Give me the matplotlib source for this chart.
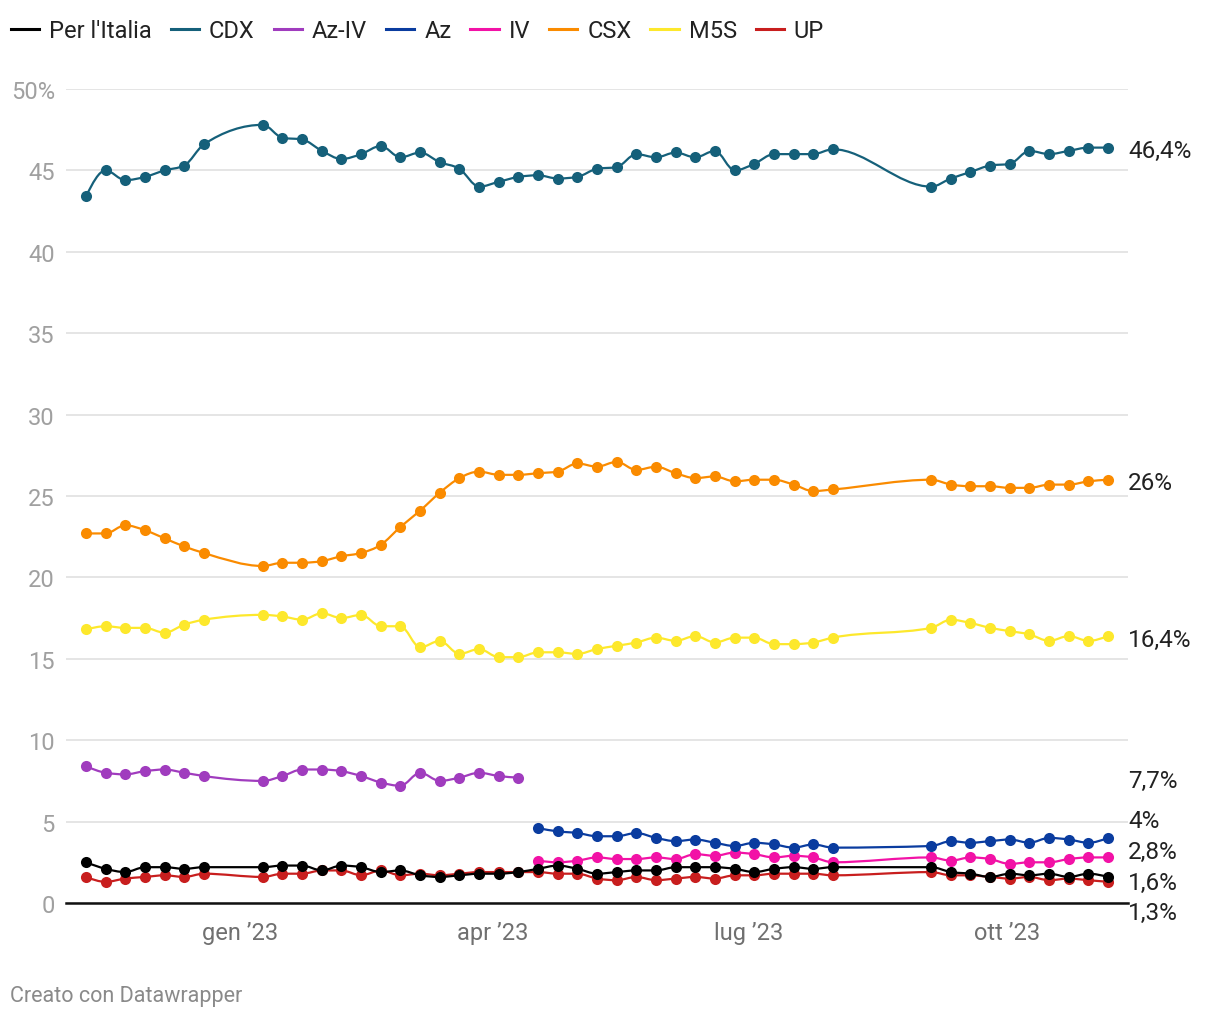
import numpy as np
import matplotlib
matplotlib.use("Agg")
import matplotlib.pyplot as plt
import matplotlib.dates as mdates
from matplotlib.path import Path
from matplotlib.patches import PathPatch
from matplotlib.lines import Line2D
import matplotlib.transforms as mtransforms
from datetime import datetime

plt.rcParams['font.family'] = ['Roboto', 'DejaVu Sans']

# weekly polls (no polls over Christmas and in August)
dates = ["2022-11-07", "2022-11-14", "2022-11-21", "2022-11-28", "2022-12-05", "2022-12-12", "2022-12-19",
         "2023-01-09", "2023-01-16", "2023-01-23", "2023-01-30", "2023-02-06", "2023-02-13", "2023-02-20",
         "2023-02-27", "2023-03-06", "2023-03-13", "2023-03-20", "2023-03-27", "2023-04-03", "2023-04-10",
         "2023-04-17", "2023-04-24", "2023-05-01", "2023-05-08", "2023-05-15", "2023-05-22", "2023-05-29",
         "2023-06-05", "2023-06-12", "2023-06-19", "2023-06-26", "2023-07-03", "2023-07-10", "2023-07-17",
         "2023-07-24", "2023-07-31",
         "2023-09-04", "2023-09-11", "2023-09-18", "2023-09-25", "2023-10-02", "2023-10-09", "2023-10-16",
         "2023-10-23", "2023-10-30", "2023-11-06"]

nan = np.nan
per_italia = [2.5, 2.1, 1.9, 2.2, 2.2, 2.1, 2.2,
              2.2, 2.3, 2.3, 2.0, 2.3, 2.2, 1.9, 2.0, 1.7, 1.6, 1.7, 1.8, 1.8, 1.9,
              2.1, 2.3, 2.1, 1.8, 1.9, 2.0, 2.0, 2.2, 2.2, 2.2, 2.1, 1.9, 2.1, 2.2, 2.1, 2.2,
              2.2, 1.9, 1.8, 1.6, 1.8, 1.7, 1.8, 1.6, 1.8, 1.6]
cdx = [43.4, 45.0, 44.4, 44.6, 45.0, 45.3, 46.6,
       47.8, 47.0, 46.9, 46.2, 45.7, 46.0, 46.5, 45.8, 46.1, 45.5, 45.1, 44.0, 44.3, 44.6,
       44.7, 44.5, 44.6, 45.1, 45.2, 46.0, 45.8, 46.1, 45.8, 46.2, 45.0, 45.4, 46.0, 46.0, 46.0, 46.3,
       44.0, 44.5, 44.9, 45.3, 45.4, 46.2, 46.0, 46.2, 46.4, 46.4]
az_iv = [8.4, 8.0, 7.9, 8.1, 8.2, 8.0, 7.8,
         7.5, 7.8, 8.2, 8.2, 8.1, 7.8, 7.4, 7.2, 8.0, 7.5, 7.7, 8.0, 7.8, 7.7] + [nan] * 26
az = [nan] * 21 + [4.6, 4.4, 4.3, 4.1, 4.1, 4.3, 4.0, 3.8, 3.9, 3.7, 3.5, 3.7, 3.6, 3.4, 3.6, 3.4,
                   3.5, 3.8, 3.7, 3.8, 3.9, 3.7, 4.0, 3.9, 3.7, 4.0]
iv = [nan] * 21 + [2.6, 2.5, 2.6, 2.8, 2.7, 2.7, 2.8, 2.7, 3.0, 2.9, 3.1, 3.0, 2.8, 2.9, 2.8, 2.5,
                   2.8, 2.6, 2.8, 2.7, 2.4, 2.5, 2.5, 2.7, 2.8, 2.8]
csx = [22.7, 22.7, 23.2, 22.9, 22.4, 21.9, 21.5,
       20.7, 20.9, 20.9, 21.0, 21.3, 21.5, 22.0, 23.1, 24.1, 25.2, 26.1, 26.5, 26.3, 26.3,
       26.4, 26.5, 27.0, 26.8, 27.1, 26.6, 26.8, 26.4, 26.1, 26.2, 25.9, 26.0, 26.0, 25.7, 25.3, 25.4,
       26.0, 25.7, 25.6, 25.6, 25.5, 25.5, 25.7, 25.7, 25.9, 26.0]
m5s = [16.8, 17.0, 16.9, 16.9, 16.6, 17.1, 17.4,
       17.7, 17.6, 17.4, 17.8, 17.5, 17.7, 17.0, 17.0, 15.7, 16.1, 15.3, 15.6, 15.1, 15.1,
       15.4, 15.4, 15.3, 15.6, 15.8, 16.0, 16.3, 16.1, 16.4, 16.0, 16.3, 16.3, 15.9, 15.9, 16.0, 16.3,
       16.9, 17.4, 17.2, 16.9, 16.7, 16.5, 16.1, 16.4, 16.1, 16.4]
up = [1.6, 1.3, 1.5, 1.6, 1.7, 1.6, 1.8,
      1.6, 1.8, 1.8, 2.0, 2.0, 1.7, 2.0, 1.7, 1.8, 1.7, 1.8, 1.9, 1.9, 1.9,
      1.9, 1.8, 1.8, 1.5, 1.4, 1.6, 1.4, 1.5, 1.6, 1.5, 1.7, 1.7, 1.8, 1.8, 1.8, 1.7,
      1.9, 1.7, 1.7, 1.6, 1.5, 1.6, 1.4, 1.5, 1.4, 1.3]

series_names = ["Per l'Italia", "CDX", "Az-IV", "Az", "IV", "CSX", "M5S", "UP"]
series_values = [per_italia, cdx, az_iv, az, iv, csx, m5s, up]
series_colors = ["#000000", "#15607a", "#a03cbe", "#0a3c9f", "#f212a6", "#fa8b00", "#fde82c", "#c81e1e"]

tick_dates = ["2023-01-01", "2023-04-01", "2023-07-01", "2023-10-01"]
tick_labels = ["gen \u201923", "apr \u201923", "lug \u201923", "ott \u201923"]


def monotone_path(x, y):
    # same construction as d3.curveMonotoneX, as cubic bezier segments
    n = len(x)
    h = np.diff(x)
    s = np.diff(y) / h
    t = np.zeros(n)
    for i in range(1, n - 1):
        p = (s[i - 1] * h[i] + s[i] * h[i - 1]) / (h[i - 1] + h[i])
        t[i] = (np.sign(s[i - 1]) + np.sign(s[i])) * min(abs(s[i - 1]), abs(s[i]), 0.5 * abs(p))
    if n > 2:
        t[0] = (3 * s[0] - t[1]) / 2
        t[-1] = (3 * s[-1] - t[-2]) / 2
    else:
        t[:] = s[0]
    verts = [(x[0], y[0])]
    codes = [Path.MOVETO]
    for i in range(n - 1):
        dx = h[i] / 3
        verts += [(x[i] + dx, y[i] + dx * t[i]), (x[i + 1] - dx, y[i + 1] - dx * t[i + 1]), (x[i + 1], y[i + 1])]
        codes += [Path.CURVE4] * 3
    return Path(verts, codes)


def fmt_pct(v):
    s = f"{v:.1f}"
    if s.endswith(".0"):
        s = s[:-2]
    return s.replace(".", ",") + "%"


xnum = mdates.date2num([datetime.strptime(d, "%Y-%m-%d") for d in dates])

fig = plt.figure(figsize=(12.2, 10.2), dpi=100)
ax = fig.add_axes([66 / 1220, 116 / 1020, (1128 - 66) / 1220, (904 - 90) / 1020])

# draw first series on top
for k in reversed(range(len(series_names))):
    vals = np.array(series_values[k], dtype=float)
    ok = ~np.isnan(vals)
    xs, ys = xnum[ok], vals[ok]
    ax.add_patch(PathPatch(monotone_path(xs, ys), facecolor="none", edgecolor=series_colors[k],
                           lw=1.6, zorder=3 + 0.1 * (8 - k)))
    ax.plot(xs, ys, linestyle="none", marker="o", markersize=8, color=series_colors[k],
            markeredgewidth=0, zorder=3 + 0.1 * (8 - k))

ax.set_xlim(xnum[0] - 7.1, xnum[-1] + 7.1)
ax.set_ylim(0, 50)

ax.set_yticks(range(0, 51, 5))
ax.set_yticklabels([str(v) if v < 50 else "50%" for v in range(0, 51, 5)])
ax.set_xticks(mdates.date2num([datetime.strptime(d, "%Y-%m-%d") for d in tick_dates]))
ax.set_xticklabels(tick_labels)
ax.tick_params(axis="y", length=0, pad=8, labelsize=17, labelcolor="#a0a0a0")
ax.tick_params(axis="x", length=0, pad=13, labelsize=17, labelcolor="#707070")
ax.yaxis.grid(True, color="#e3e3e3", lw=1.3, zorder=0)
ax.set_axisbelow(True)
for side in ["top", "right", "left"]:
    ax.spines[side].set_visible(False)
ax.spines["bottom"].set_color("#111111")
ax.spines["bottom"].set_linewidth(1.8)
ax.spines["bottom"].set_zorder(2)

# end-value labels on the right, pushed apart where they collide
last_vals = []
for vals in series_values:
    v = np.array(vals, dtype=float)
    last_vals.append(v[~np.isnan(v)][-1])
order = np.argsort(last_vals)
pos = np.array([last_vals[i] for i in order], dtype=float)
gap = 1.9
for _ in range(200):
    for j in range(len(pos) - 1):
        d = pos[j + 1] - pos[j]
        if d < gap:
            push = (gap - d) / 2
            pos[j] -= push
            pos[j + 1] += push
trans = mtransforms.blended_transform_factory(ax.transAxes, ax.transData) + \
    mtransforms.ScaledTranslation(0, -3 / 100, fig.dpi_scale_trans)
for j, i in enumerate(order):
    ax.text(1.0, pos[j], fmt_pct(last_vals[i]), transform=trans, ha="left", va="center",
            fontsize=17.5, color="#222222", clip_on=False)

handles = [Line2D([0], [0], color=c, lw=2.2) for c in series_colors]
fig.legend(handles, series_names, loc="center left", bbox_to_anchor=(0.009, 1 - 32 / 1020), ncol=8,
           frameon=False, fontsize=17, handlelength=1.2, handletextpad=0.42, columnspacing=0.8,
           borderaxespad=0, borderpad=0, labelcolor="#222222")

fig.text(10 / 1220, 1 - 997 / 1020, "Creato con Datawrapper", fontsize=15.5, color="#8a8a8a",
         ha="left", va="center")

fig.savefig("out.png", dpi=100)
